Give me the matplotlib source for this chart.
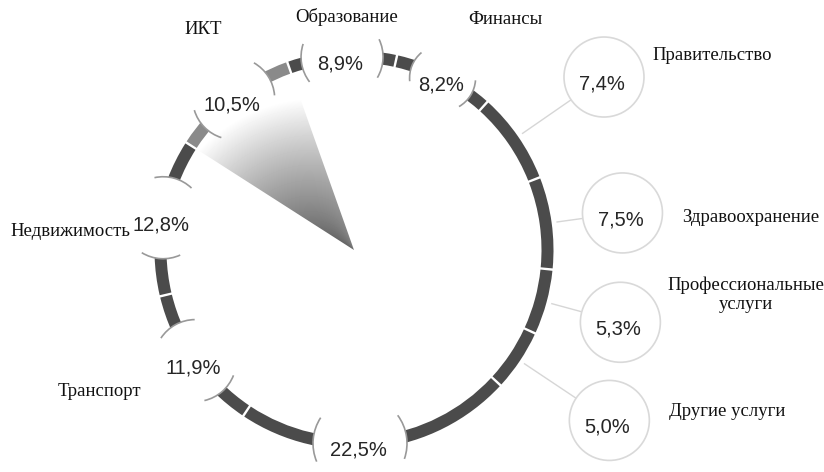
import numpy as np
import matplotlib.pyplot as plt
from matplotlib.patches import Wedge, Circle, Arc

# data, clockwise from the top-right
categories = ['Правительство', 'Здравоохранение', 'Профессиональные\nуслуги',
              'Другие услуги', '', 'Транспорт', 'Недвижимость', 'ИКТ',
              'Образование', 'Финансы']
shares = [7.4, 7.5, 5.3, 5.0, 22.5, 11.9, 12.8, 10.5, 8.9, 8.2]
highlight = 'ИКТ'

# layout
W, H = 824, 472
cx, cy = 354, 250
r_out, ring_w = 199.5, 12
r_mid = r_out - ring_w / 2
start = 42
outside = {0: 304, 1: 271, 2: 276, 3: 307}       # bubbles away from the ring
bubble_r = {4: 47, 9: 33}                         # default 41
angle_shift = {4: 5}
label_pos = {0: (712, 56), 1: (751, 217), 2: (746, 295), 3: (727, 411),
             5: (99, 392), 6: (70, 231), 7: (203, 29), 8: (347, 17), 9: (505, 19)}

dark = '#4b4b4b'
light = '#8a8a8a'


def pt(phi, r):
    a = np.radians(phi)
    return cx + r * np.sin(a), cy - r * np.cos(a)


fig = plt.figure(figsize=(8.24, 4.72), dpi=100)
ax = fig.add_axes([0, 0, 1, 1])

bounds = start + 3.6 * np.concatenate([[0], np.cumsum(shares)])
mids = (bounds[:-1] + bounds[1:]) / 2
gap = 0.35

# ring
for i, cat in enumerate(categories):
    col = light if cat == highlight else dark
    ax.add_patch(Wedge((cx, cy), r_out, bounds[i] - 90 + gap, bounds[i + 1] - 90 - gap,
                       width=ring_w, facecolor=col, edgecolor='none', zorder=2))

# gradient slice for the highlighted sector (drawn over the white bubbles)
k = categories.index(highlight)
b1, b2 = bounds[k], bounds[k + 1]
yy, xx = np.mgrid[0:H, 0:W] + 0.5
rr = np.hypot(xx - cx, yy - cy)
ph = np.degrees(np.arctan2(xx - cx, -(yy - cy))) % 360
frac = np.clip((ph - b1) / (b2 - b1), 0, 1)
val = np.clip(0.38 + 0.62 * (rr / 185) ** 1.5 + 0.12 * frac, 0, 1)
im = ax.imshow(val, cmap='gray', vmin=0, vmax=1, extent=(0, W, H, 0),
               interpolation='bilinear', zorder=3.5)
clip = Wedge((cx, cy), 186, b1 - 90, b2 - 90, transform=ax.transData)
im.set_clip_path(clip)

# bubbles and labels
for i, v in enumerate(shares):
    txt = f'{v:.1f}%'.replace('.', ',')
    if i in outside:
        d = outside[i]
        b = 40
        bx, by = pt(mids[i], d)
        x0, y0 = pt(mids[i], 205)
        x1, y1 = pt(mids[i], d - b)
        ax.plot([x0, x1], [y0, y1], color='#d6d6d6', lw=1, zorder=2)
        ax.add_patch(Circle((bx, by), b, facecolor='white', edgecolor='#d9d9d9',
                            lw=1.2, zorder=3))
    else:
        b = bubble_r.get(i, 41)
        phi = mids[i] + angle_shift.get(i, 0)
        bx, by = pt(phi, r_mid)
        ax.add_patch(Circle((bx, by), b, facecolor='white', edgecolor='none', zorder=3))
        tc = phi - 90
        da = np.degrees(np.arccos(-b / (2 * r_mid)))
        for d in (tc - da, tc + da):
            ax.add_patch(Arc((bx, by), 2 * b, 2 * b, theta1=d - 28, theta2=d + 28,
                             color='#999999', lw=1.2, zorder=4))
    ax.text(bx - 2, by + 7, txt, ha='center', va='center', fontsize=14.5,
            family='Liberation Sans', color='#262626', zorder=5)
    if i in label_pos and categories[i]:
        lx, ly = label_pos[i]
        ax.text(lx, ly, categories[i], ha='center', va='center', fontsize=13.5,
                family='Liberation Serif', color='#111111', linespacing=1.15, zorder=5)

ax.set_xlim(0, W)
ax.set_ylim(H, 0)
ax.set_aspect('equal')
ax.axis('off')

fig.savefig('out.png', dpi=100, facecolor='white')
